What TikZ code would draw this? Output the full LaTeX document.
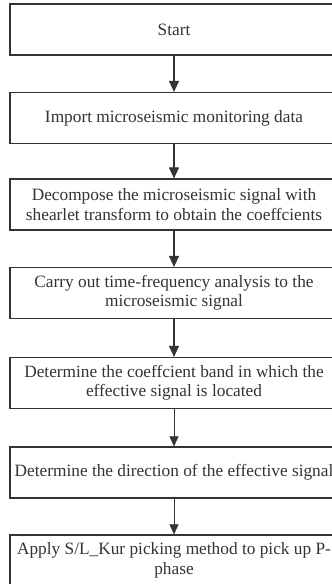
\documentclass[tikz,border=0pt]{standalone}
\usepackage{fontspec}
\setmainfont{Liberation Serif}
\usetikzlibrary{positioning, arrows.meta}
\definecolor{grigio}{HTML}{333333}

\begin{document}
\begin{tikzpicture}[x=1pt,y=1pt,
    blocco/.style={draw=grigio, line width=1.2pt, text=grigio, align=center,
        minimum width=328pt, minimum height=51pt, inner sep=2pt,
        font=\fontsize{17.3}{19.5}\selectfont},
    freccia/.style={draw=grigio, line width=1.2pt, -{Triangle[width=10pt,length=11pt]}},
    freccina/.style={draw=grigio, line width=0.7pt, -{Triangle[width=9pt,length=10pt]}}]
            \useasboundingbox (0,0) rectangle (332,584);
            \clip (0,0) rectangle (332,584);
            % blocchi
            \node[blocco] (start) at (174,554.5) {Start};
            \node[blocco] (import) at (174,466) {Import microseismic monitoring data};
            \node[blocco] (decomp) at (174,379.5) {Decompose the microseismic signal with\\shearlet transform to obtain the coeffcients};
            \node[blocco] (tfa) at (174,291) {Carry out time-frequency analysis to the\\microseismic signal};
            \node[blocco] (band) at (174,201) {Determine the coeffcient band in which the\\effective signal is located};
            \node[blocco] (dir) at (174,111.5) {Determine the direction of the effective signal};
            \node[blocco] (pick) at (174,23.5) {Apply S/L\_Kur picking method to pick up P-\\phase};
            % frecce
            \draw[freccia] (start) -- (import);
            \draw[freccia] (import) -- (decomp);
            \draw[freccia] (decomp) -- (tfa);
            \draw[freccia] (tfa) -- (band);
            \draw[freccina] (band) -- (dir);
            \draw[freccina] (dir) -- (pick);
        \end{tikzpicture}
\end{document}
